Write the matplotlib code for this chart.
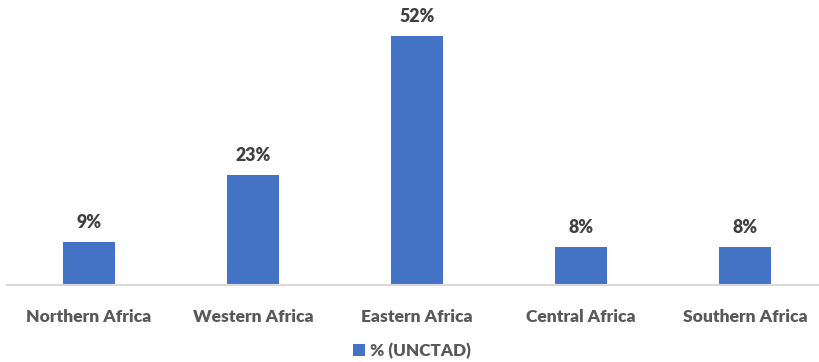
import matplotlib
matplotlib.use("Agg")
import matplotlib.pyplot as plt

regions = ["Northern Africa", "Western Africa", "Eastern Africa", "Central Africa", "Southern Africa"]
shares = [9, 23, 52, 8, 8]
series_name = "% (UNCTAD)"

BAR_COLOR = "#4472c4"
plt.rcParams["font.family"] = ["Lato", "DejaVu Sans"]
WEIGHT = "heavy"

W, H = 819, 362
fig = plt.figure(figsize=(W / 100, H / 100), dpi=100, facecolor="white")

# plot area in pixels: baseline at y=285, 164 px per category
left_px, base_px, step_px = 7, 285, 164
px_per_unit = 249 / 52
ymax = 60
ax = fig.add_axes([left_px / W, 1 - base_px / H,
                   step_px * len(regions) / W, ymax * px_per_unit / H])

x = range(len(regions))
bars = ax.bar(x, shares, width=52 / step_px, color=BAR_COLOR, label=series_name, zorder=2)
for b, v in zip(bars, shares):
    ax.annotate(f"{v:.0f}%", (b.get_x() + b.get_width() / 2, v),
                xytext=(0, 8), textcoords="offset points",
                ha="center", va="bottom", fontsize=12.8, fontweight=WEIGHT, color="#404040")

ax.set_xlim(-0.5, len(regions) - 0.5)
ax.set_ylim(0, ymax)
ax.set_yticks([])
ax.set_xticks(list(x))
ax.set_xticklabels(regions, fontsize=12.6, fontweight=WEIGHT, color="#595959")
ax.tick_params(axis="x", length=0, pad=17)
for s in ["top", "left", "right"]:
    ax.spines[s].set_visible(False)
ax.spines["bottom"].set_color("#d9d9d9")
ax.spines["bottom"].set_linewidth(1.5)
ax.spines["bottom"].set_zorder(3)

fig.legend(handles=[bars], labels=[series_name], loc="center",
           bbox_to_anchor=(412 / W, 1 - 351 / H), frameon=False,
           handlelength=0.7, handleheight=0.7, handletextpad=0.3,
           prop={"size": 12.3, "weight": WEIGHT}, labelcolor="#595959")

fig.savefig("out.png", dpi=100, facecolor="white")
